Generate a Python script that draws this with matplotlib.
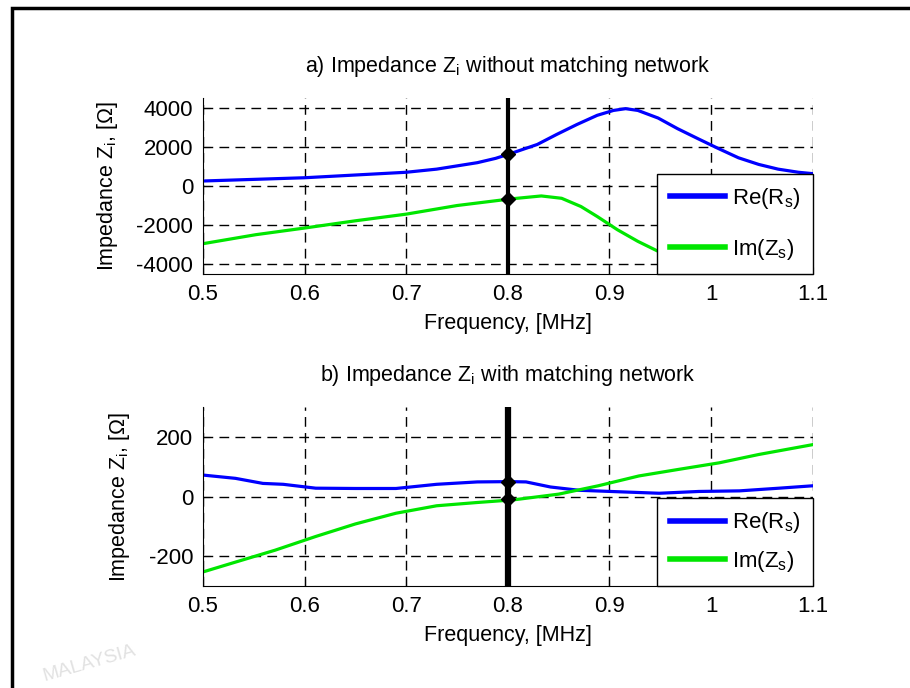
import numpy as np
import matplotlib.pyplot as plt
from matplotlib.patches import Rectangle

plt.rcParams['font.family'] = ['Liberation Sans', 'DejaVu Sans']
plt.rcParams['mathtext.fontset'] = 'custom'
plt.rcParams['mathtext.rm'] = 'Liberation Sans'
plt.rcParams['axes.unicode_minus'] = False

# a) without matching network (values read off the picture)
f_a_re = [0.5, 0.552, 0.6, 0.65, 0.7, 0.73, 0.77, 0.788, 0.803, 0.829, 0.848, 0.868, 0.888,
          0.904, 0.916, 0.928, 0.948, 0.967, 0.987, 1.007, 1.027, 1.047, 1.066, 1.086, 1.1]
re_a = [254, 340, 420, 560, 700, 860, 1190, 1410, 1660, 2120, 2630, 3140, 3610,
        3860, 3950, 3860, 3470, 2930, 2420, 1920, 1440, 1100, 860, 700, 630]
f_a_im = [0.5, 0.552, 0.6, 0.65, 0.7, 0.75, 0.803, 0.833, 0.853, 0.872, 0.888, 0.908, 0.928,
          0.948, 0.967, 0.987, 1.007, 1.027, 1.047, 1.066, 1.1]
im_a = [-2950, -2490, -2150, -1780, -1440, -1000, -660, -510, -630, -1050, -1560, -2240, -2830,
        -3340, -3760, -4020, -4140, -4050, -3930, -3800, -3390]

# b) with matching network
f_b_re = [0.5, 0.532, 0.559, 0.579, 0.611, 0.65, 0.69, 0.73, 0.77, 0.802, 0.818, 0.842, 0.87,
          0.909, 0.949, 0.988, 1.028, 1.067, 1.1]
re_b = [72, 61, 44, 41, 28, 27, 27, 41, 49, 50, 49, 32, 21, 16, 11, 17, 19, 28, 36]
f_b_im = [0.5, 0.532, 0.571, 0.611, 0.65, 0.69, 0.73, 0.77, 0.806, 0.85, 0.889, 0.929, 0.968,
          1.008, 1.047, 1.1]
im_b = [-253, -220, -180, -134, -92, -56, -31, -20, -11, 8, 36, 69, 91, 113, 141, 174]

f_mark = 0.8
mark_a = [1610, -660]
mark_b = [50, -9]

xticks = [0.5, 0.6, 0.7, 0.8, 0.9, 1.0, 1.1]
xticklabels = ['0.5', '0.6', '0.7', '0.8', '0.9', '1', '1.1']

fig = plt.figure(figsize=(9.1, 6.88), dpi=100)
fig.patches.append(Rectangle((12/910, -0.1), 1.2, 1 - 8/688 + 0.1, transform=fig.transFigure,
                             fill=False, edgecolor='black', linewidth=2.5))
fig.text(0.045, 0.01, 'MALAYSIA', color='#e2e2e2', fontsize=14, rotation=16)

ax1 = fig.add_axes([0.223, 0.6017, 0.670, 0.256])
ax2 = fig.add_axes([0.223, 0.1483, 0.670, 0.260])

panels = [
    (ax1, f_a_re, re_a, f_a_im, im_a, mark_a, (-4500, 4500), [-4000, -2000, 0, 2000, 4000],
     r'a) Impedance Z$_\mathregular{i}$ without matching network', 3, 1.15),
    (ax2, f_b_re, re_b, f_b_im, im_b, mark_b, (-300, 300), [-200, 0, 200],
     r'b) Impedance Z$_\mathregular{i}$ with matching network', 4.5, 0.6),
]

for ax, fr, re, fi, im, mk, ylim, yticks, title, vlw, lsp in panels:
    ax.plot(fr, re, color='#0000ff', linewidth=2.3, label=r'Re(R$_\mathregular{s}$)')
    ax.plot(fi, im, color='#00e600', linewidth=2.3, label=r'Im(Z$_\mathregular{s}$)')
    ax.axvline(f_mark, color='black', linewidth=vlw, zorder=4)
    ax.plot([f_mark, f_mark], mk, linestyle='none', marker='D', color='black',
            markersize=7, zorder=5)
    ax.set_xlim(0.5, 1.1)
    ax.set_ylim(*ylim)
    ax.set_xticks(xticks)
    ax.set_xticklabels(xticklabels)
    ax.set_yticks(yticks)
    ax.grid(True, color='black', linestyle=(0, (7, 4.5)), linewidth=1.0)
    ax.tick_params(direction='in', labelsize=16, length=5, width=0.8, pad=7)
    ax.spines['top'].set_visible(False)
    ax.spines['right'].set_visible(False)
    ax.set_title(title, fontsize=15.5, pad=19)
    ax.set_xlabel('Frequency, [MHz]', fontsize=15.5, labelpad=6)
    ax.set_ylabel(r'Impedance Z$_\mathregular{i}$, [$\Omega$]', fontsize=15.5, labelpad=12)
    leg = ax.legend(loc='lower right', fontsize=16, frameon=True, fancybox=False,
                    borderaxespad=0, handlelength=2.5, handletextpad=0.3,
                    labelspacing=lsp, borderpad=0.55)
    leg.get_frame().set_edgecolor('black')
    leg.get_frame().set_linewidth(1.0)
    leg.get_frame().set_alpha(1)
    for h in leg.get_lines():
        h.set_linewidth(4)

fig.savefig('out.png', dpi=100)
